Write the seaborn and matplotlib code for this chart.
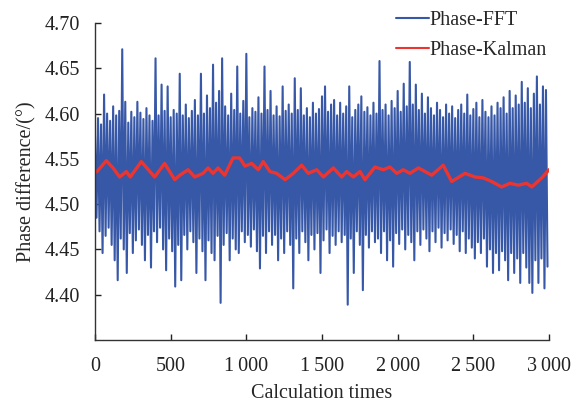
import numpy as np
import pandas as pd
import matplotlib
matplotlib.use("Agg")
import matplotlib.pyplot as plt
import seaborn as sns

# ---- data ----
# Phase-FFT: upper and lower extremes for successive 20-step bins (0..2980)
fft_high = [4.575, 4.595, 4.588, 4.621, 4.600, 4.592, 4.608, 4.598, 4.603, 4.671,
            4.613, 4.590, 4.602, 4.596, 4.613, 4.601, 4.594, 4.606, 4.598, 4.592,
            4.661, 4.598, 4.632, 4.603, 4.630, 4.596, 4.604, 4.600, 4.644, 4.598,
            4.610, 4.595, 4.603, 4.615, 4.598, 4.644, 4.600, 4.620, 4.606, 4.654,
            4.612, 4.625, 4.661, 4.608, 4.598, 4.622, 4.604, 4.652, 4.600, 4.614,
            4.666, 4.596, 4.606, 4.602, 4.618, 4.600, 4.652, 4.604, 4.625, 4.598,
            4.608, 4.597, 4.630, 4.603, 4.610, 4.600, 4.639, 4.604, 4.628, 4.598,
            4.606, 4.596, 4.612, 4.600, 4.605, 4.619, 4.630, 4.602, 4.610, 4.615,
            4.598, 4.612, 4.600, 4.608, 4.630, 4.596, 4.604, 4.610, 4.619, 4.602,
            4.607, 4.598, 4.612, 4.600, 4.658, 4.604, 4.610, 4.598, 4.614, 4.606,
            4.625, 4.602, 4.633, 4.608, 4.657, 4.610, 4.632, 4.604, 4.622, 4.600,
            4.618, 4.606, 4.598, 4.612, 4.604, 4.596, 4.610, 4.600, 4.608, 4.595,
            4.604, 4.610, 4.600, 4.621, 4.598, 4.605, 4.612, 4.596, 4.615, 4.602,
            4.596, 4.608, 4.598, 4.612, 4.606, 4.618, 4.600, 4.625, 4.606, 4.620,
            4.610, 4.635, 4.612, 4.628, 4.606, 4.622, 4.641, 4.610, 4.630, 4.626]
fft_low = [4.485, 4.470, 4.446, 4.465, 4.474, 4.455, 4.438, 4.416, 4.462, 4.450,
           4.424, 4.468, 4.446, 4.460, 4.472, 4.455, 4.438, 4.466, 4.430, 4.470,
           4.458, 4.474, 4.450, 4.427, 4.462, 4.448, 4.409, 4.455, 4.416, 4.466,
           4.450, 4.470, 4.458, 4.424, 4.462, 4.448, 4.416, 4.460, 4.446, 4.438,
           4.465, 4.391, 4.455, 4.468, 4.438, 4.462, 4.450, 4.446, 4.470, 4.458,
           4.466, 4.453, 4.472, 4.448, 4.429, 4.465, 4.446, 4.470, 4.455, 4.466,
           4.438, 4.462, 4.446, 4.470, 4.455, 4.407, 4.462, 4.446, 4.470, 4.458,
           4.438, 4.466, 4.450, 4.468, 4.424, 4.460, 4.472, 4.446, 4.465, 4.455,
           4.470, 4.458, 4.466, 4.389, 4.462, 4.424, 4.470, 4.455, 4.405, 4.466,
           4.452, 4.470, 4.458, 4.462, 4.446, 4.470, 4.438, 4.460, 4.431, 4.468,
           4.456, 4.472, 4.450, 4.466, 4.458, 4.438, 4.470, 4.455, 4.472, 4.462,
           4.448, 4.470, 4.458, 4.474, 4.452, 4.468, 4.460, 4.472, 4.456, 4.466,
           4.448, 4.470, 4.446, 4.462, 4.452, 4.440, 4.458, 4.446, 4.462, 4.431,
           4.450, 4.424, 4.446, 4.427, 4.448, 4.438, 4.416, 4.446, 4.424, 4.440,
           4.413, 4.446, 4.430, 4.413, 4.402, 4.438, 4.413, 4.440, 4.407, 4.431]

# Phase-Kalman: (calculation time, value)
kal_t = [0, 13, 75, 119, 163, 207, 233, 306, 394, 460, 527, 560, 615, 659, 714,
         747, 780, 813, 857, 912, 956, 991, 1035, 1079, 1112, 1156, 1200, 1256,
         1310, 1366, 1409, 1465, 1509, 1575, 1630, 1663, 1707, 1751, 1784, 1850,
         1905, 1949, 1994, 2037, 2081, 2137, 2181, 2225, 2301, 2357, 2445, 2511,
         2566, 2621, 2687, 2742, 2797, 2853, 2886, 2952, 3000]
kal_v = [4.535, 4.536, 4.548, 4.540, 4.530, 4.536, 4.530, 4.547, 4.530, 4.545,
         4.527, 4.532, 4.538, 4.530, 4.534, 4.540, 4.534, 4.540, 4.532, 4.551,
         4.551, 4.542, 4.545, 4.538, 4.547, 4.536, 4.534, 4.527, 4.534, 4.543,
         4.534, 4.538, 4.530, 4.540, 4.530, 4.536, 4.530, 4.536, 4.527, 4.541,
         4.538, 4.541, 4.534, 4.538, 4.534, 4.540, 4.536, 4.532, 4.543, 4.525,
         4.534, 4.530, 4.529, 4.525, 4.519, 4.523, 4.521, 4.523, 4.519, 4.529,
         4.538]

y_ticks = [4.40, 4.45, 4.50, 4.55, 4.60, 4.65, 4.70]
x_ticks = [0, 500, 1000, 1500, 2000, 2500, 3000]
x_tick_labels = ["0", "500", "1\u2009000", "1\u2009500", "2\u2009000",
                 "2\u2009500", "3\u2009000"]

# ---- build table ----
fft_vals = np.ravel(np.column_stack([fft_high, fft_low]))
fft_t = np.arange(len(fft_vals)) * 10
df_fft = pd.DataFrame({"t": fft_t, "v": fft_vals})
df_kal = pd.DataFrame({"t": kal_t, "v": kal_v})

sns.set_style("ticks")
plt.rcParams["font.family"] = ["Liberation Serif", "DejaVu Serif"]

fig = plt.figure(figsize=(5.74, 4.05), dpi=100)
ax = fig.add_axes([95 / 574, 1 - 340 / 405, (549 - 95) / 574, (340 - 23) / 405])

sns.lineplot(data=df_fft, x="t", y="v", ax=ax, color="#3757a7", lw=1.5,
             label="Phase-FFT", estimator=None, sort=False)
sns.lineplot(data=df_kal, x="t", y="v", ax=ax, color="#ec3530", lw=2.4,
             label="Phase-Kalman", estimator=None, sort=False)

ax.set_xlim(0, 3000)
ax.set_ylim(4.35, 4.70)
ax.set_yticks(y_ticks)
ax.set_yticklabels([f"{v:.2f}" for v in y_ticks])
ax.set_xticks(x_ticks)
ax.set_xticklabels(x_tick_labels)
ax.tick_params(direction="in", length=4, width=1, labelsize=14.5, colors="#222222")
ax.tick_params(axis="y", pad=11)
ax.tick_params(axis="x", pad=12, labelsize=14.5)
for s in ["top", "right"]:
    ax.spines[s].set_visible(False)
for s in ["left", "bottom"]:
    ax.spines[s].set_linewidth(1.0)
    ax.spines[s].set_color("#333333")

ax.set_xlabel("Calculation times", fontsize=14.5, labelpad=6)
ax.set_ylabel("Phase difference/(°)", fontsize=14.5, labelpad=6)

ax.get_legend().remove()
leg = fig.legend(*ax.get_legend_handles_labels(), loc="upper right",
                 bbox_to_anchor=(551 / 574, 1 - 7 / 405), frameon=False,
                 fontsize=14.5, handlelength=1.6, handletextpad=0.05,
                 labelspacing=0.55, borderpad=0.2, borderaxespad=0.0)
for h in leg.get_lines():
    h.set_linewidth(1.5)

fig.savefig("out.png", dpi=100)
